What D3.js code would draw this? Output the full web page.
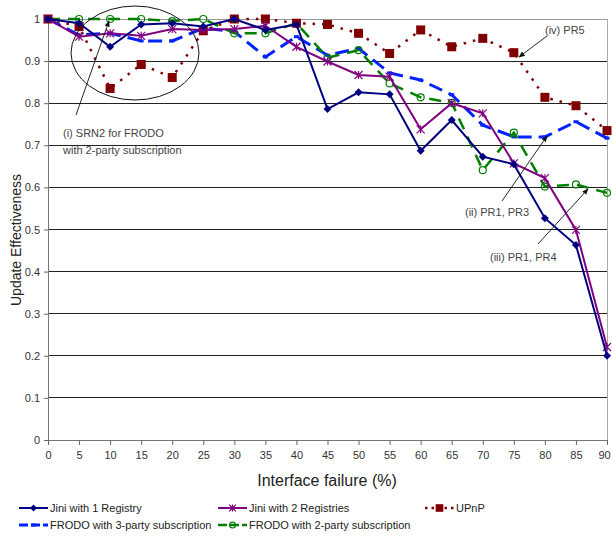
<!DOCTYPE html>
<html><head><meta charset="utf-8">
<script src="https://cdn.jsdelivr.net/npm/d3@7"></script>
<style>body{margin:0;background:#fff}svg{display:block;font-family:"Liberation Sans",Arial,sans-serif}</style>
</head><body><svg id="c" width="612" height="536"></svg>
<script>
const xValues = [0,5,10,15,20,25,30,35,40,45,50,55,60,65,70,75,80,85,90];
const yTicks = [0,0.1,0.2,0.3,0.4,0.5,0.6,0.7,0.8,0.9,1];
const jini1 = [1.0,0.99,0.934,0.987,0.99,0.982,1.0,0.974,0.987,0.786,0.826,0.821,0.687,0.760,0.673,0.655,0.527,0.463,0.200];
const jini2 = [1.0,0.958,0.966,0.960,0.976,0.974,0.976,0.984,0.934,0.899,0.867,0.863,0.738,0.800,0.776,0.657,0.622,0.499,0.221];
const upnp = [1.0,0.982,0.835,0.892,0.861,0.972,1.0,1.0,0.990,0.987,0.966,0.918,0.974,0.934,0.954,0.920,0.814,0.794,0.735];
const frodo3 = [1.0,0.962,0.966,0.948,0.948,0.978,0.970,0.910,0.958,0.914,0.930,0.872,0.855,0.820,0.748,0.720,0.720,0.756,0.717];
const frodo2 = [1.0,1.0,1.0,1.0,0.995,1.0,0.966,0.966,0.990,0.908,0.926,0.847,0.814,0.801,0.641,0.730,0.602,0.607,0.587];
const seriesNames = ["Jini with 1 Registry","Jini with 2 Registries","UPnP","FRODO with 3-party subscription","FRODO with 2-party subscription"];

const svg = d3.select("#c");
const x = d3.scaleLinear().domain([0,90]).range([48,607]);
const y = d3.scaleLinear().domain([0,1]).range([440,19]);

// gridlines
svg.append("g").selectAll("line").data(yTicks.filter(d=>d>0)).join("line")
  .attr("x1",48).attr("x2",607).attr("y1",d=>y(d)).attr("y2",d=>y(d))
  .attr("stroke",d=>d===1?"#999":"#222").attr("stroke-width",1).attr("shape-rendering","crispEdges");
// right border
svg.append("line").attr("x1",607).attr("x2",607).attr("y1",19).attr("y2",440).attr("stroke","#aaa").attr("shape-rendering","crispEdges");

// axes
const xa = svg.append("g").attr("transform","translate(0,440)")
  .call(d3.axisBottom(x).tickValues(xValues).tickSize(5).tickPadding(6).tickFormat(d3.format("d")));
const ya = svg.append("g").attr("transform","translate(48,0)")
  .call(d3.axisLeft(y).tickValues(yTicks).tickSize(4).tickPadding(4).tickFormat(d=>d===0?"0":d===1?"1":d3.format(".1f")(d)));
[xa,ya].forEach(a=>{
  a.select(".domain").attr("stroke","#777");
  a.selectAll(".tick line").attr("stroke","#666");
  a.selectAll("text").attr("font-size",11).attr("fill","#333").attr("font-family","Liberation Sans, Arial, sans-serif");
});
xa.selectAll(".tick text").filter(d=>d===90).attr("dx",-3);

svg.append("text").attr("x",327).attr("y",486).attr("text-anchor","middle").attr("font-size",16).attr("fill","#222").text("Interface failure (%)");
svg.append("text").attr("transform","translate(21,240) rotate(-90)").attr("text-anchor","middle").attr("font-size",14).attr("fill","#222").text("Update Effectiveness");

const line = d3.line().x((d,i)=>x(xValues[i])).y(d=>y(d));

const styles = [
  {data:jini1,color:"#000080",w:2,dash:null,marker:"diamond"},
  {data:jini2,color:"#800080",w:2,dash:null,marker:"star"},
  {data:upnp,color:"#800000",w:2.5,dash:"2.5,7",marker:"square"},
  {data:frodo3,color:"#0022ff",w:3,dash:"14,7",marker:"dash"},
  {data:frodo2,color:"#008000",w:2.5,dash:"12,8",marker:"circle"}
];

function drawMarker(g, type, color, cx, cy, sc){
  sc = sc || 1;
  if(type==="diamond"){
    const r=4*sc;
    g.append("path").attr("d",`M${cx},${cy-r}L${cx+r},${cy}L${cx},${cy+r}L${cx-r},${cy}Z`).attr("fill",color);
  } else if(type==="star"){
    const r=4*sc;
    g.append("path").attr("d",`M${cx-r},${cy-r}L${cx+r},${cy+r}M${cx-r},${cy+r}L${cx+r},${cy-r}M${cx},${cy-r}L${cx},${cy+r}`).attr("stroke",color).attr("stroke-width",1.2).attr("fill","none");
  } else if(type==="square"){
    const r=4.5*sc;
    g.append("rect").attr("x",cx-r).attr("y",cy-r).attr("width",2*r).attr("height",2*r).attr("fill",color);
  } else if(type==="circle"){
    g.append("circle").attr("cx",cx).attr("cy",cy).attr("r",3.5*sc).attr("fill","#fff").attr("fill-opacity",0).attr("stroke",color).attr("stroke-width",1.2);
  } else if(type==="dash"){
    g.append("line").attr("x1",cx-2.5).attr("x2",cx+2.5).attr("y1",cy).attr("y2",cy).attr("stroke",color).attr("stroke-width",3);
  }
}

const order = [3,4,2,1,0];
order.forEach(k=>{
  const s = styles[k];
  const g = svg.append("g");
  g.append("path").datum(s.data).attr("d",line).attr("fill","none").attr("stroke",s.color)
    .attr("stroke-width",s.w).attr("stroke-dasharray",s.dash);
  s.data.forEach((v,i)=>drawMarker(g,s.marker,s.color,x(xValues[i]),y(v)));
});

// annotations
const ann = svg.append("g").attr("fill","#444").attr("font-size",11);
svg.append("ellipse").attr("cx",135).attr("cy",53).attr("rx",64).attr("ry",47).attr("fill","none").attr("stroke","#111").attr("stroke-width",1);
svg.append("defs").append("marker").attr("id","ah").attr("viewBox","0 0 10 10").attr("refX",9).attr("refY",5)
  .attr("markerWidth",7).attr("markerHeight",7).attr("orient","auto")
  .append("path").attr("d","M0,1L10,5L0,9Z").attr("fill","#111");
function arrow(x1,y1,x2,y2){
  svg.append("line").attr("x1",x1).attr("y1",y1).attr("x2",x2).attr("y2",y2).attr("stroke","#111").attr("stroke-width",0.9).attr("marker-end","url(#ah)");
}
arrow(76,115,109,21);
ann.append("text").attr("x",63).attr("y",137).text("(i) SRN2 for FRODO");
ann.append("text").attr("x",63).attr("y",154).text("with 2-party subscription");
arrow(547,36,519,57);
ann.append("text").attr("x",545).attr("y",34).text("(iv) PR5");
arrow(502,201,547,136);
ann.append("text").attr("x",465).attr("y",216).text("(ii) PR1, PR3");
arrow(538,244,588,189);
ann.append("text").attr("x",490).attr("y",261).text("(iii) PR1, PR4");

// legend
const leg = svg.append("g");
const legPos = [[19,508],[218,508],[425,508],[19,525],[218,525]];
styles.forEach((s,i)=>{
  const [lx,ly]=legPos[i];
  leg.append("line").attr("x1",lx).attr("x2",lx+29).attr("y1",ly).attr("y2",ly).attr("stroke",s.color)
    .attr("stroke-width",s.w).attr("stroke-dasharray",s.dash?(i===2?"2.5,4":"9,3"):null);
  drawMarker(leg,s.marker,s.color,lx+14.5,ly,0.85);
  leg.append("text").attr("x",lx+31).attr("y",ly+4).attr("font-size",11).attr("fill","#222").text(seriesNames[i]);
});
</script></body></html>
